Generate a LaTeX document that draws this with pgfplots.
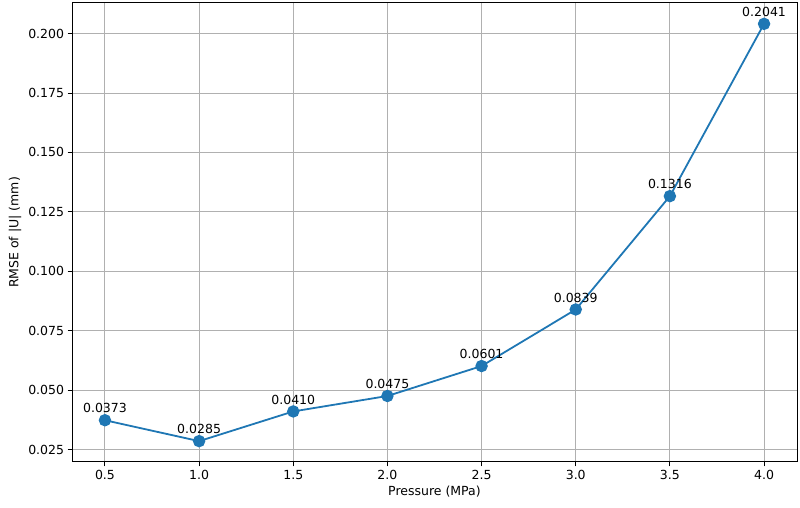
\documentclass[border=0pt]{standalone}
\usepackage{pgfplots}
\pgfplotsset{compat=1.18}
\usepackage{fontspec}
\setmainfont{DejaVu Sans}
\definecolor{mplblue}{HTML}{1F77B4}
\definecolor{gridgray}{HTML}{B0B0B0}
\begin{document}
\begin{tikzpicture}
\useasboundingbox (-72pt,-46pt) rectangle (728pt,462pt);
\begin{axis}[
  at={(0,0)}, anchor=south west,
  scale only axis, width=725pt, height=459pt,
  xmin=0.325, xmax=4.175, ymin=0.01972, ymax=0.21288,
  xtick={0.5,1.0,...,4.0},
  ytick={0.025,0.050,...,0.2001},
  xtick pos=bottom, ytick pos=left,
  grid=major,
  major grid style={gridgray, line width=1pt},
  tick align=outside, major tick length=4.4pt,
  tick style={black, line width=1pt},
  axis line style={black, line width=1pt},
  xticklabel style={/pgf/number format/.cd, fixed, fixed zerofill, precision=1},
  yticklabel style={/pgf/number format/.cd, fixed, fixed zerofill, precision=3},
  /pgf/number format/assume math mode=true,
  ticklabel style={font=\fontsize{12.5}{14}\selectfont},
  label style={font=\fontsize{12.5}{14}\selectfont},
  xlabel={Pressure (MPa)},
  ylabel={RMSE of |U| (mm)},
  nodes near coords,
  point meta=y,
  every node near coord/.append style={font=\fontsize{12.5}{14}\selectfont, black, anchor=south, yshift=3pt,
    /pgf/number format/.cd, fixed, fixed zerofill, precision=4},
]
\addplot[mplblue, line width=1.8pt, mark=*, mark size=5.3pt, mark options={fill=mplblue, draw=none}]
coordinates {
(0.5,0.0373) (1.0,0.0285) (1.5,0.0410) (2.0,0.0475)
(2.5,0.0601) (3.0,0.0839) (3.5,0.1316) (4.0,0.2041)
};
\end{axis}
\end{tikzpicture}
\end{document}
